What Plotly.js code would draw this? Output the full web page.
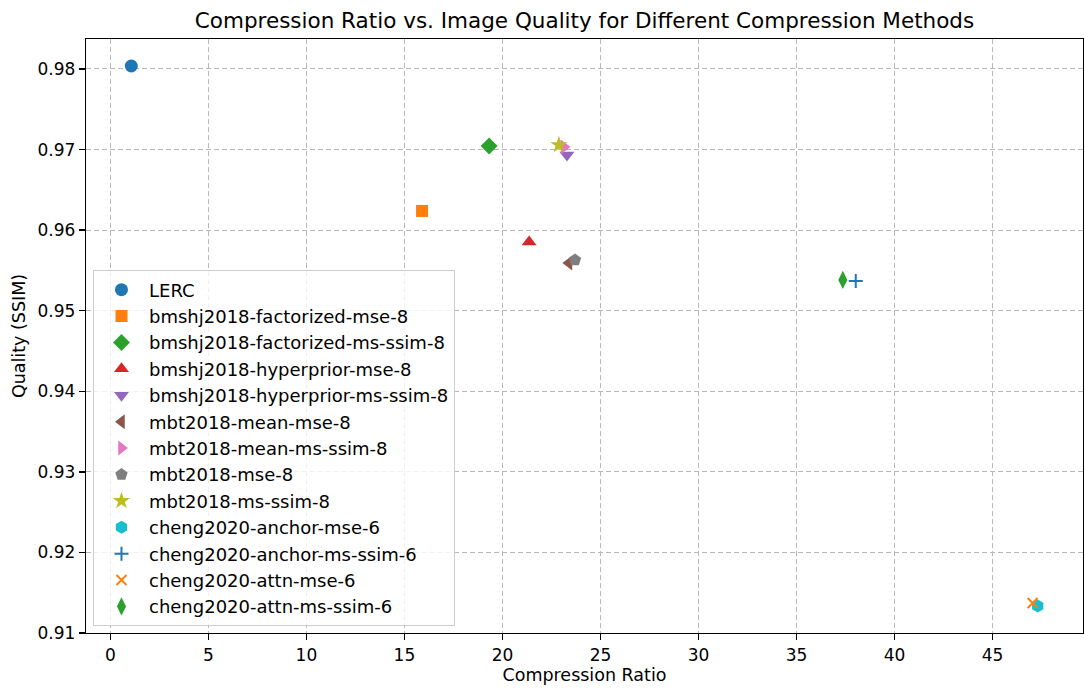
<!DOCTYPE html>
<html><head><meta charset="utf-8">
<script src="https://cdn.plot.ly/plotly-3.0.1.min.js"></script>
<style>body{margin:0}#c{width:1085px;height:688px}</style>
</head><body><div id="c"></div>
<script>
const methods = ["LERC","bmshj2018-factorized-mse-8","bmshj2018-factorized-ms-ssim-8","bmshj2018-hyperprior-mse-8","bmshj2018-hyperprior-ms-ssim-8","mbt2018-mean-mse-8","mbt2018-mean-ms-ssim-8","mbt2018-mse-8","mbt2018-ms-ssim-8","cheng2020-anchor-mse-6","cheng2020-anchor-ms-ssim-6","cheng2020-attn-mse-6","cheng2020-attn-ms-ssim-6"];
const ratio = [1.07, 15.9, 19.32, 21.36, 23.29, 23.39, 23.14, 23.7, 22.88, 47.3, 38.02, 47.04, 37.36];
const ssim = [0.98037, 0.96238, 0.97044, 0.95853, 0.96933, 0.95592, 0.97032, 0.95629, 0.97057, 0.91335, 0.95369, 0.91372, 0.95382];
const colors = ["#1f77b4","#ff7f0e","#2ca02c","#d62728","#9467bd","#8c564b","#e377c2","#7f7f7f","#bcbd22","#17becf","#1f77b4","#ff7f0e","#2ca02c"];
const symbols = ["circle","square","diamond","triangle-up","triangle-down","triangle-left","triangle-right","pentagon","star","hexagon","cross-thin","x-thin","diamond-tall"];
const sizes = [13,12,13,13,13,13,13,13,13,13,10,10,13];

const traces = methods.map((m,i)=>({
  type:"scatter", mode:"markers", name:m, legendgroup:"g"+i,
  x:[ratio[i]], y:[ssim[i]],
  marker:{symbol:symbols[i], color:colors[i], size:sizes[i],
    line:{color:colors[i], width:(symbols[i].endsWith("thin")?2:0)}}
}));

const axisCommon = {
  showline:true, linecolor:"#000", linewidth:1.3, mirror:true,
  ticks:"outside", ticklen:6, tickcolor:"#000", tickwidth:1.3,
  showgrid:true, gridcolor:"#b8b8b8", griddash:"5px,3px", gridwidth:1,
  zeroline:false, tickfont:{size:17, color:"#000"}
};

const layout = {
  width:1085, height:688,
  margin:{l:86, r:2, t:39, b:55},
  paper_bgcolor:"#fff", plot_bgcolor:"#fff",
  font:{family:"DejaVu Sans", color:"#000"},
  title:{text:"Compression Ratio vs. Image Quality for Different Compression Methods", font:{size:21.5}, x:0.5, xref:"paper", xanchor:"center", y:0.97, yanchor:"middle"},
  xaxis:Object.assign({}, axisCommon, {range:[-1.24,49.61], dtick:5, tick0:0,
    title:{text:"Compression Ratio", font:{size:17.5}, standoff:5}}),
  yaxis:Object.assign({}, axisCommon, {range:[0.91,0.98372], dtick:0.01, tick0:0.91, tickformat:".2f",
    title:{text:"Quality (SSIM)", font:{size:17.5}, standoff:7}}),
  showlegend:true,
  legend:{x:0.007, y:0.011, xanchor:"left", yanchor:"bottom",
    bgcolor:"rgba(255,255,255,0.8)", bordercolor:"#cccccc", borderwidth:1,
    font:{size:18}, tracegroupgap:0, itemwidth:45}
};

Plotly.newPlot("c", traces, layout, {displayModeBar:false, staticPlot:true});
</script></body></html>
